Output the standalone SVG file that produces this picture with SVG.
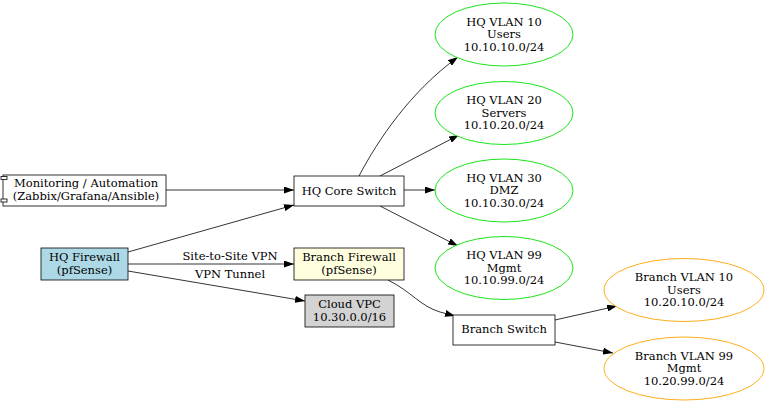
<svg xmlns="http://www.w3.org/2000/svg" width="768" height="404" viewBox="0 0 768 404">
<defs>
<marker id="arr" viewBox="0 0 10 7" refX="10" refY="3.5" markerWidth="10" markerHeight="7" markerUnits="userSpaceOnUse" orient="auto">
<path d="M0,0 L10,3.5 L0,7 Z" fill="#000"/>
</marker>
<style>
text{font-family:"DejaVu Serif","Liberation Serif",serif;font-size:11.5px;text-anchor:middle;fill:#000}
.box{stroke:#000;stroke-width:0.8}
.hq{fill:#fff;stroke:#00e000;stroke-width:0.9}
.br{fill:#fff;stroke:#ffa500;stroke-width:0.9}
.e{fill:none;stroke:#000;stroke-width:0.8;marker-end:url(#arr)}
</style>
</defs>
<rect width="768" height="404" fill="#fff"/>
<g id="edges">
<path class="e" d="M166,190 L294,190"/>
<path class="e" d="M128,252 L294,205"/>
<path class="e" d="M128,264 L294,264"/>
<text x="230" y="260">Site-to-Site VPN</text>
<path class="e" d="M128,271 L305,301"/>
<text x="230" y="278">VPN Tunnel</text>
<path class="e" d="M359,176 C378,140 410,92 458,57"/>
<path class="e" d="M380,176 L459,135"/>
<path class="e" d="M404,190 L435,190"/>
<path class="e" d="M380,206 L458,246"/>
<path class="e" d="M388,280 C412,292 420,306 440,312 L455,316"/>
<path class="e" d="M555,320 L617,306"/>
<path class="e" d="M555,342 L613,353"/>
</g>
<g id="monitoring">
<rect class="box" x="3" y="175" width="163" height="31" fill="#fff"/>
<rect class="box" x="1" y="176.5" width="6" height="3" fill="#fff"/>
<rect class="box" x="1" y="199" width="6" height="3" fill="#fff"/>
<text x="86" y="187">Monitoring / Automation</text>
<text x="86" y="199.5">(Zabbix/Grafana/Ansible)</text>
</g>
<g id="hq_fw">
<rect class="box" x="41" y="248" width="87" height="32" fill="#add8e6"/>
<text x="84.5" y="261">HQ Firewall</text>
<text x="84.5" y="273.5">(pfSense)</text>
</g>
<g id="hq_core">
<rect class="box" x="294" y="176" width="110" height="30" fill="#fff"/>
<text x="349" y="194.5">HQ Core Switch</text>
</g>
<g id="branch_fw">
<rect class="box" x="294" y="248" width="110" height="32" fill="#ffffe0"/>
<text x="349" y="261">Branch Firewall</text>
<text x="349" y="273.5">(pfSense)</text>
</g>
<g id="cloud_vpc">
<rect class="box" x="305" y="295" width="89" height="32" fill="#d3d3d3"/>
<text x="349.5" y="308">Cloud VPC</text>
<text x="349.5" y="320.5">10.30.0.0/16</text>
</g>
<g id="hq_vlan10">
<ellipse class="hq" cx="504" cy="34.5" rx="69" ry="31.5"/>
<text x="504" y="25.5">HQ VLAN 10</text>
<text x="504" y="38">Users</text>
<text x="504" y="50.5">10.10.10.0/24</text>
</g>
<g id="hq_vlan20">
<ellipse class="hq" cx="504" cy="113" rx="69" ry="31.5"/>
<text x="504" y="104">HQ VLAN 20</text>
<text x="504" y="116.5">Servers</text>
<text x="504" y="129">10.10.20.0/24</text>
</g>
<g id="hq_vlan30">
<ellipse class="hq" cx="504" cy="190.5" rx="69" ry="31.5"/>
<text x="504" y="181.5">HQ VLAN 30</text>
<text x="504" y="194">DMZ</text>
<text x="504" y="206.5">10.10.30.0/24</text>
</g>
<g id="hq_vlan99">
<ellipse class="hq" cx="504" cy="268" rx="69" ry="31.5"/>
<text x="504" y="259">HQ VLAN 99</text>
<text x="504" y="271.5">Mgmt</text>
<text x="504" y="284">10.10.99.0/24</text>
</g>
<g id="branch_switch">
<rect class="box" x="453" y="315" width="102" height="30" fill="#fff"/>
<text x="504" y="333">Branch Switch</text>
</g>
<g id="br_vlan10">
<ellipse class="br" cx="684" cy="290" rx="80" ry="31.5"/>
<text x="684" y="281">Branch VLAN 10</text>
<text x="684" y="293.5">Users</text>
<text x="684" y="306">10.20.10.0/24</text>
</g>
<g id="br_vlan99">
<ellipse class="br" cx="684" cy="368.5" rx="80" ry="31.5"/>
<text x="684" y="359.5">Branch VLAN 99</text>
<text x="684" y="372">Mgmt</text>
<text x="684" y="384.5">10.20.99.0/24</text>
</g>
</svg>
